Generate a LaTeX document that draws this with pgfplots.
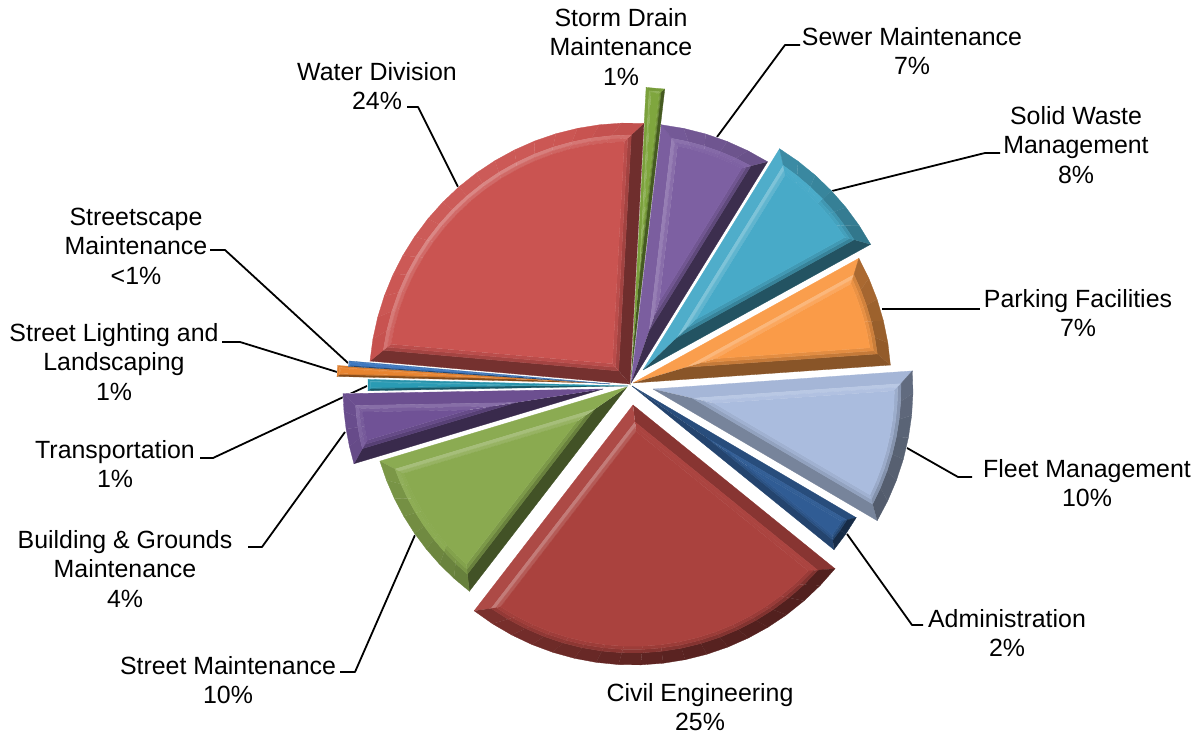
\documentclass[border=0pt]{standalone}
\usepackage{fontspec}
\setmainfont{Liberation Sans}
\usepackage{pgfplots}
\usepackage{pgfplotstable}
\pgfplotsset{compat=1.18}

\definecolor{StormDrain}{RGB}{127,166,62}
\definecolor{Sewer}{RGB}{125,96,162}
\definecolor{SolidWaste}{RGB}{72,170,200}
\definecolor{Parking}{RGB}{250,155,72}
\definecolor{Fleet}{RGB}{170,188,222}
\definecolor{Administration}{RGB}{48,92,148}
\definecolor{Civil}{RGB}{170,66,62}
\definecolor{StreetMaint}{RGB}{138,170,80}
\definecolor{Building}{RGB}{112,82,150}
\definecolor{Transportation}{RGB}{42,155,180}
\definecolor{Lighting}{RGB}{232,132,48}
\definecolor{Streetscape}{RGB}{62,120,192}
\definecolor{Water}{RGB}{202,84,81}

\tikzset{
  leader/.style={black, line width=1.8pt, line join=round},
  lab/.style={align=center, anchor=center, inner sep=0pt,
    font=\fontsize{24.9}{29.4}\selectfont},
}

% share of the budget (percent), slice apex and radius in drawing units
\pgfplotstableread{
name           pct    ax   ay   R
StormDrain     1.00   630  385  298
Sewer          6.94   631  383  260
SolidWaste     8.17   643  370  260
Parking        6.92   633  383  258
Fleet          9.56   653  389  260
Administration 2.39   632  386  260
Civil          24.62  633  405  260
StreetMaint    9.90   627  387  258
Building       4.35   603  389  260
Transportation 0.69   628  386  260
Lighting       0.67   597  383  260
Streetscape    0.33   610  384  262
Water          24.45  630  384  261
}\slices

\newcount\seg
\def\runAngle{86.9}

% point at radius #1 and angle #2 around the current apex, stored in #3
\newcommand\polarpt[3]{%
  \pgfmathsetmacro\tx{\Ax+#1*cos(#2)}%
  \pgfmathsetmacro\ty{\Ay+#1*sin(#2)}%
  \edef#3{(\tx,\ty)}}

% geometry of the slice outline inset by #1
\newcommand\offs[1]{%
  \pgfmathsetmacro\Ro{\Rad-#1}%
  \pgfmathsetmacro\offAng{asin(#1/\Ro)}%
  \pgfmathsetmacro\Lo{\Aa+\offAng}%
  \pgfmathsetmacro\Hi{\Ab-\offAng}%
  \pgfmathsetmacro\Pd{#1/sin(\Half)}%
  \pgfmathsetmacro\Pxx{\Ax+\Pd*cos(\Mid)}%
  \pgfmathsetmacro\Pyy{\Ay+\Pd*sin(\Mid)}}

% one bevel facet: #1 outward normal, #2 ring number, #3 polygon
\newcommand\face[3]{%
  \pgfmathsetmacro\sv{cos(#1-135)}%
  \ifnum#2=1
    \pgfmathsetmacro\tn{\sv>=0 ? -0.22+0.26*\sv : -0.22+0.3*\sv}%
  \else\ifnum#2=2
    \pgfmathsetmacro\tn{\sv>=0 ? 0.30*\sv*\sv : 0.45*(-0.22+0.3*\sv)}%
  \else
    \pgfmathsetmacro\tn{\sv>=0 ? 0.13*\sv*\sv : 0.18*(-0.22+0.3*\sv)}%
  \fi\fi
  \ifdim\tn pt<0pt
    \pgfmathtruncatemacro\pp{100+100*\tn}\edef\cc{\Col!\pp!black}%
  \else
    \pgfmathtruncatemacro\pp{100-100*\tn}\edef\cc{\Col!\pp!white}%
  \fi
  \edef\tmp{\noexpand\addplot[fill=\cc,draw=\cc,line width=0.3pt,forget plot] coordinates {#3};}\tmp}

\def\onearc{%
  \pgfmathsetmacro\ta{\the\seg/\Nseg}%
  \pgfmathsetmacro\tb{(\the\seg+1)/\Nseg}%
  \pgfmathsetmacro\angA{\LoA+\ta*(\HiA-\LoA)}%
  \pgfmathsetmacro\angB{\LoA+\tb*(\HiA-\LoA)}%
  \pgfmathsetmacro\angC{\LoB+\tb*(\HiB-\LoB)}%
  \pgfmathsetmacro\angD{\LoB+\ta*(\HiB-\LoB)}%
  \polarpt\RA\angA\qa\polarpt\RA\angB\qb\polarpt\RB\angC\qc\polarpt\RB\angD\qd
  \pgfmathsetmacro\nm{\Aa+(\ta+\tb)/2*(\Ab-\Aa)}%
  \face{\nm}{\Kind}{\qa\qb\qc\qd}}
\def\arcsteps{\ifnum\seg<\Nseg\relax\onearc\advance\seg by 1 \expandafter\arcsteps\fi}

% bevel ring between insets #1 and #2
\newcommand\ring[3]{%
  \def\Kind{#3}%
  \offs{#1}\let\RA\Ro\let\PxA\Pxx\let\PyA\Pyy\let\LoA\Lo\let\HiA\Hi
  \offs{#2}\let\RB\Ro\let\PxB\Pxx\let\PyB\Pyy\let\LoB\Lo\let\HiB\Hi
  \polarpt\RA\HiA\qa\polarpt\RB\HiB\qb
  \pgfmathsetmacro\nm{\Ab+90}%
  \face{\nm}{\Kind}{(\PxA,\PyA)\qa\qb(\PxB,\PyB)}%
  \polarpt\RA\LoA\qa\polarpt\RB\LoB\qb
  \pgfmathsetmacro\nm{\Aa-90}%
  \face{\nm}{\Kind}{(\PxA,\PyA)\qa\qb(\PxB,\PyB)}%
  \seg=0 \arcsteps}

% closed outline of the slice inset by #1, collected in \lst
\def\outlinestep{\ifnum\seg>\Nseg\else
  \pgfmathsetmacro\ta{\the\seg/\Nseg}%
  \pgfmathsetmacro\angA{\Lo+\ta*(\Hi-\Lo)}%
  \polarpt\Ro\angA\qa\edef\lst{\lst\qa}%
  \advance\seg by 1 \expandafter\outlinestep\fi}
\newcommand\outline[1]{%
  \offs{#1}\edef\lst{(\Pxx,\Pyy)}\seg=0 \outlinestep}

\newcommand\drawslice[1]{%
  \pgfplotstablegetelem{#1}{name}\of\slices\edef\Col{\pgfplotsretval}%
  \pgfplotstablegetelem{#1}{pct}\of\slices\let\Pct\pgfplotsretval
  \pgfplotstablegetelem{#1}{ax}\of\slices\let\Ax\pgfplotsretval
  \pgfplotstablegetelem{#1}{ay}\of\slices\pgfmathsetmacro\Ay{736-\pgfplotsretval}%
  \pgfplotstablegetelem{#1}{R}\of\slices\let\Rad\pgfplotsretval
  \let\Ab\runAngle
  \pgfmathsetmacro\Aa{\Ab-\Pct*3.6}%
  \pgfmathsetmacro\Half{(\Ab-\Aa)/2}%
  \pgfmathsetmacro\Mid{(\Ab+\Aa)/2}%
  \pgfmathtruncatemacro\Nseg{max(1,ceil((\Ab-\Aa)/5))}%
  \pgfmathsetmacro\dOne{min(12,0.35*\Rad*\Half*3.14159/180)}%
  \pgfmathsetmacro\dTwo{\dOne*1.28}%
  \pgfmathsetmacro\dThree{\dOne*1.55}%
  \outline{0}%
  \edef\tmp{\noexpand\addplot[fill=white,draw=white,line width=1pt,forget plot] coordinates {\lst};}\tmp
  \ring{0}{\dOne}{1}%
  \ring{\dOne}{\dTwo}{2}%
  \ring{\dTwo}{\dThree}{3}%
  \outline{\dThree}%
  \edef\tmp{\noexpand\addplot[fill=\Col,draw=\Col,line width=0.3pt,forget plot] coordinates {\lst};}\tmp
  \global\let\runAngle\Aa}

\begin{document}
\begin{tikzpicture}
\path[use as bounding box] (0,0) rectangle (1197pt,736pt);
\begin{axis}[
  at={(0,0)}, anchor=south west,
  width=1197pt, height=736pt, scale only axis,
  xmin=0, xmax=1197, ymin=0, ymax=736,
  hide axis, clip=false,
]
% leader lines from the slices to their labels
\addplot[leader] coordinates {(407,629) (418,629) (458,549)};
\addplot[leader] coordinates {(717,599) (785,691) (800,691)};
\addplot[leader] coordinates {(832,545) (985,583) (1000,583)};
\addplot[leader] coordinates {(882,427) (980,427)};
\addplot[leader] coordinates {(907,288) (958,259) (972,259)};
\addplot[leader] coordinates {(847,202) (912,111) (923,111)};
\addplot[leader] coordinates {(415,201) (355,64) (340,64)};
\addplot[leader] coordinates {(345,304) (262,189) (248,189)};
\addplot[leader] coordinates {(367,350) (213,278) (200,278)};
\addplot[leader] coordinates {(337,364) (240,394) (222,394)};
\addplot[leader] coordinates {(348,373) (225,486) (210,486)};

% slices, clockwise from the top
\pgfplotsforeachungrouped \row in {0,...,12} {\drawslice{\row}}

% slice labels
\node[lab] at (axis cs:377,650) {Water Division\\24\%};
\node[lab] at (axis cs:621,689) {Storm Drain\\Maintenance\\1\%};
\node[lab] at (axis cs:912,685) {Sewer Maintenance\\7\%};
\node[lab] at (axis cs:1076,591) {Solid Waste\\Management\\8\%};
\node[lab] at (axis cs:1078,423) {Parking Facilities\\7\%};
\node[lab] at (axis cs:1087,253) {Fleet Management\\10\%};
\node[lab] at (axis cs:1007,103) {Administration\\2\%};
\node[lab] at (axis cs:700,29) {Civil Engineering\\25\%};
\node[lab] at (axis cs:228,56) {Street Maintenance\\10\%};
\node[lab] at (axis cs:125,167) {Building \& Grounds\\Maintenance\\4\%};
\node[lab] at (axis cs:115,272) {Transportation\\1\%};
\node[lab] at (axis cs:114,374) {Street Lighting and\\Landscaping\\1\%};
\node[lab] at (axis cs:136,490) {Streetscape\\Maintenance\\<1\%};
\end{axis}
\end{tikzpicture}
\end{document}
